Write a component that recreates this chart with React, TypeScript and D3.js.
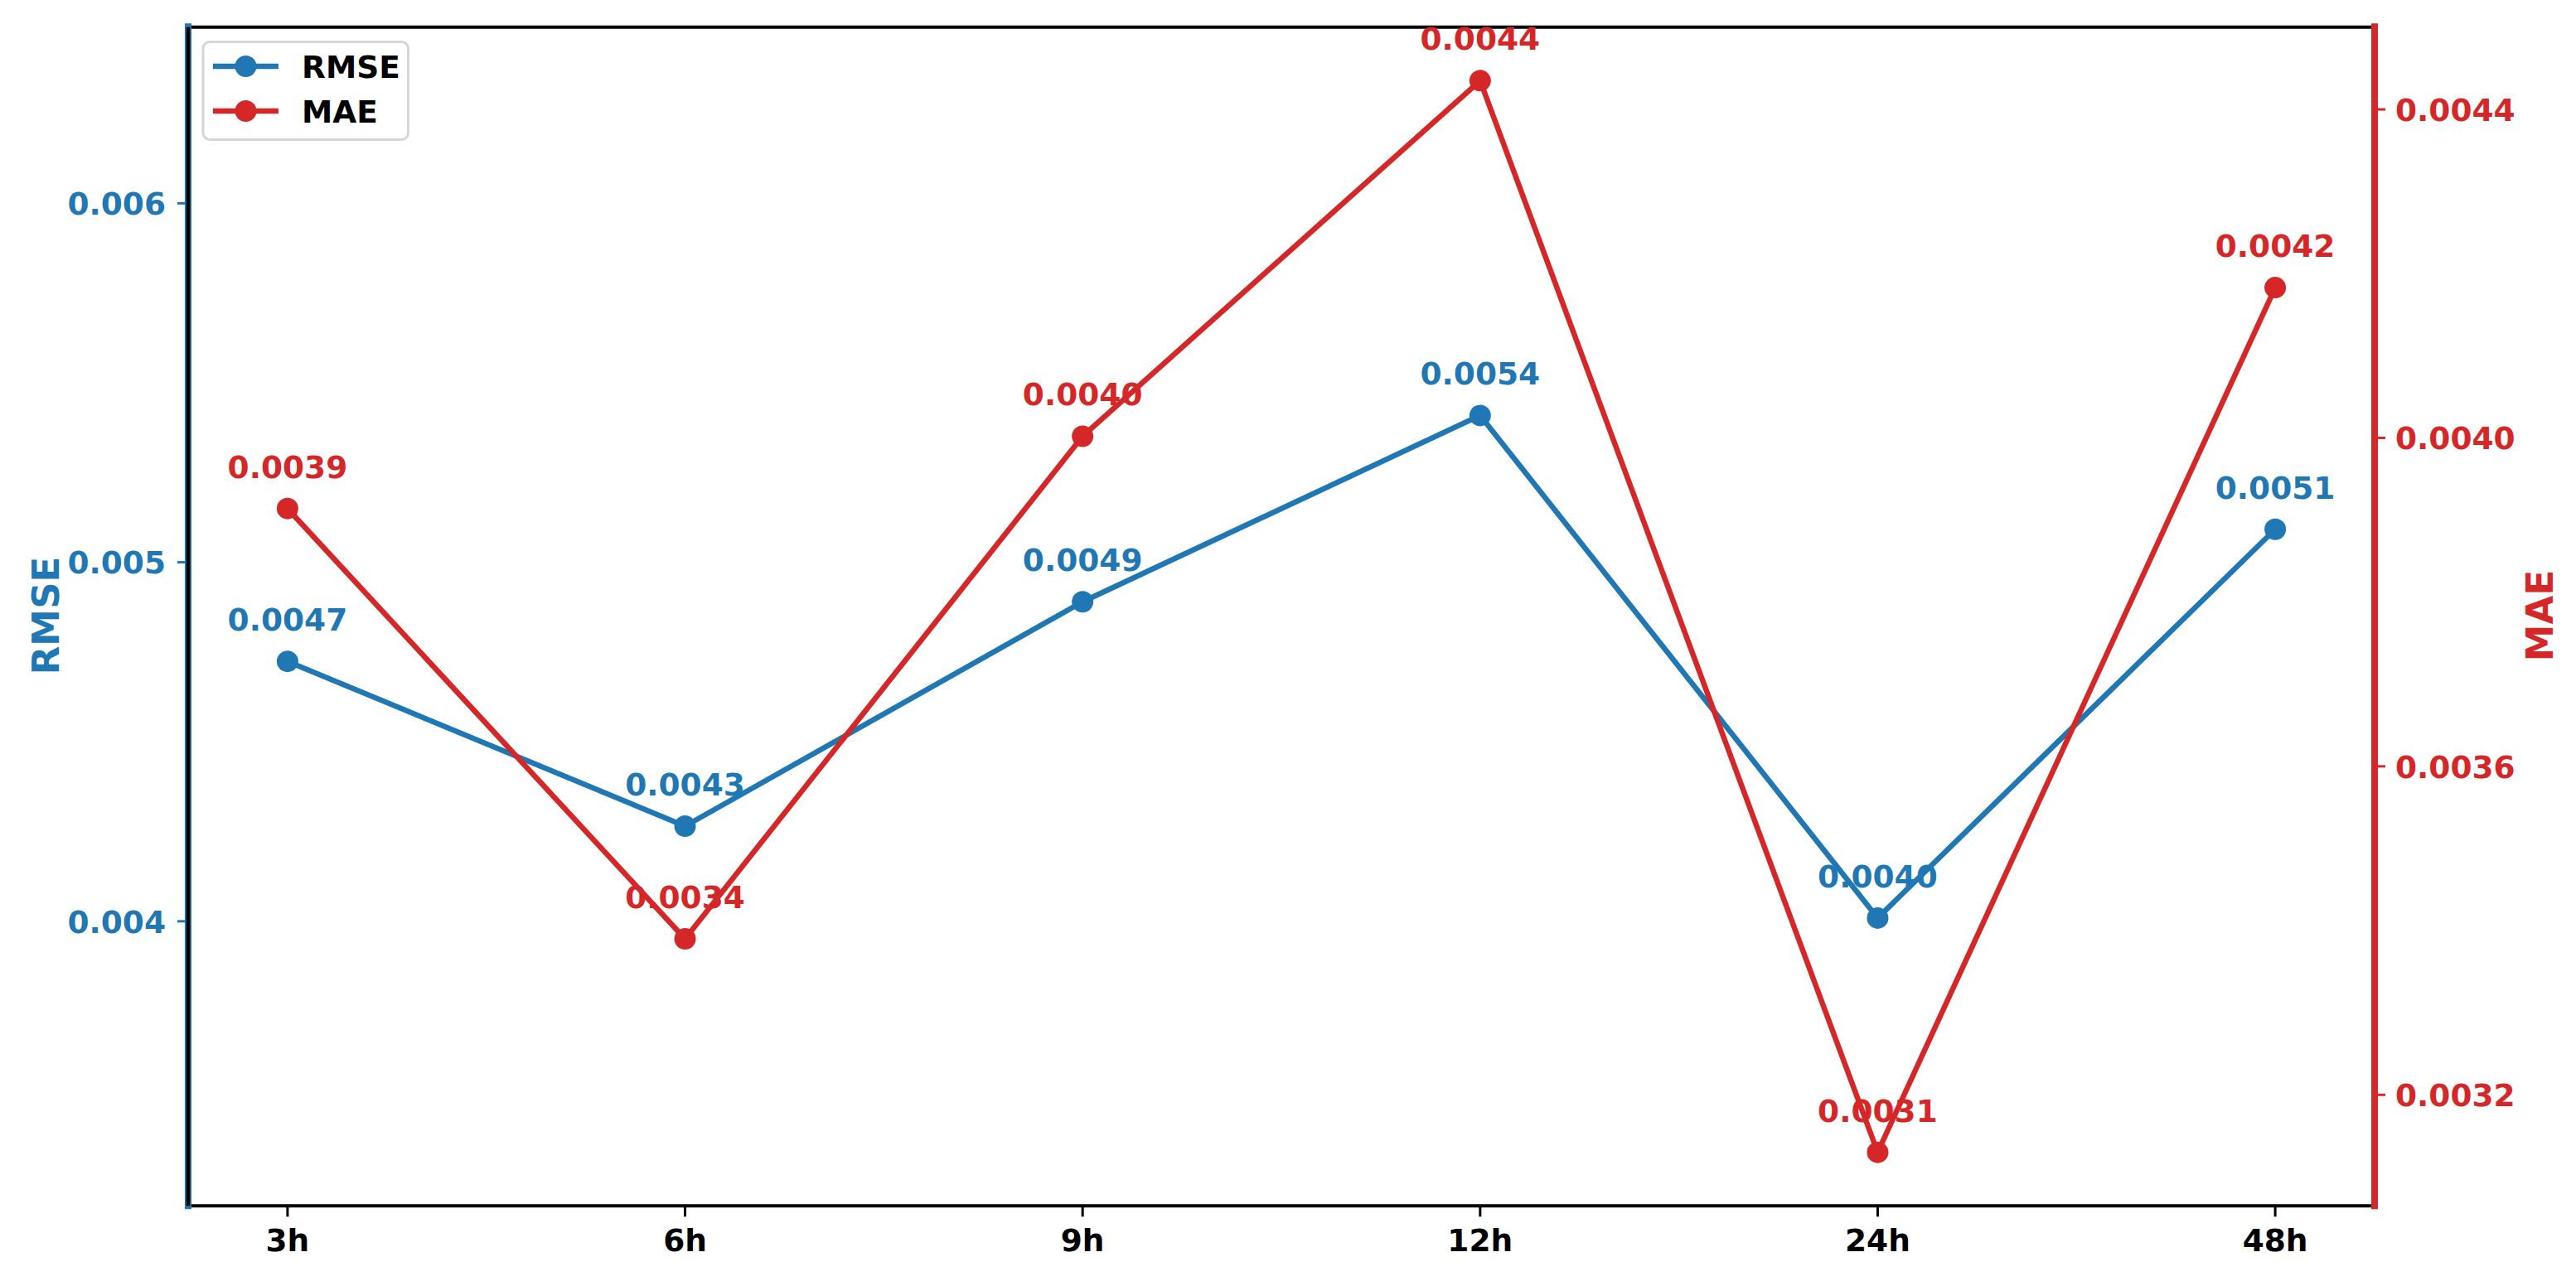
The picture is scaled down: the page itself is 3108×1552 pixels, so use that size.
import React from "react";
import * as d3 from "d3";

const horizons = ["3h", "6h", "9h", "12h", "24h", "48h"];
const rmseValues = [0.004724, 0.004265, 0.00489, 0.005409, 0.004009, 0.005092];
const maeValues = [0.003914, 0.00339, 0.004002, 0.004435, 0.00313, 0.004183];
const rmseTicks = [0.004, 0.005, 0.006];
const maeTicks = [0.0032, 0.0036, 0.004, 0.0044];

const W = 3108;
const H = 1552;
const LEFT = 227;
const RIGHT = 2865;
const TOP = 32.7;
const BOTTOM = 1455.3;
const BLUE = "#1f77b4";
const RED = "#d62728";
const FONT = "'DejaVu Sans', sans-serif";

export default function App() {
  const x = d3.scalePoint<string>().domain(horizons).range([LEFT, RIGHT]).padding(0.25);

  const rMin = d3.min(rmseValues)!;
  const rMax = d3.max(rmseValues)!;
  const yL = d3.scaleLinear().domain([rMin * 0.8, rMax * 1.2]).range([BOTTOM, TOP]);

  const mMin = d3.min(maeValues)!;
  const mMax = d3.max(maeValues)!;
  const mR = mMax - mMin;
  const yR = d3.scaleLinear().domain([mMin - 0.05 * mR, mMax + 0.05 * mR]).range([BOTTOM, TOP]);

  const lineL = d3
    .line<number>()
    .x((_, i) => x(horizons[i])!)
    .y((d) => yL(d));
  const lineR = d3
    .line<number>()
    .x((_, i) => x(horizons[i])!)
    .y((d) => yR(d));

  const fs = 37.5;

  return (
    <svg
      width={W}
      height={H}
      style={{ position: "absolute", left: 0, top: 0, display: "block", background: "#fff" }}
      fontFamily={FONT}
      fontWeight="bold"
    >
      <rect x={0} y={0} width={W} height={H} fill="#fff" />

      {/* ax1 spines */}
      <line x1={LEFT} x2={RIGHT} y1={TOP} y2={TOP} stroke="#000" strokeWidth={4} />
      <line x1={LEFT} x2={RIGHT} y1={BOTTOM} y2={BOTTOM} stroke="#000" strokeWidth={4} />
      <line x1={RIGHT} x2={RIGHT} y1={TOP} y2={BOTTOM} stroke="#000" strokeWidth={4} />
      <line x1={LEFT} x2={LEFT} y1={TOP - 4.5} y2={BOTTOM + 4} stroke={BLUE} strokeWidth={8} />

      {/* left ticks */}
      {rmseTicks.map((t) => (
        <g key={"l" + t}>
          <line x1={LEFT - 13} x2={LEFT - 3} y1={yL(t)} y2={yL(t)} stroke={BLUE} strokeWidth={3} />
          <text x={200} y={yL(t)} dy={13.8} textAnchor="end" fontSize={fs} fill={BLUE}>
            {d3.format(".3f")(t)}
          </text>
        </g>
      ))}

      {/* bottom ticks */}
      {horizons.map((h) => (
        <g key={"b" + h}>
          <line x1={x(h)!} x2={x(h)!} y1={BOTTOM} y2={BOTTOM + 13} stroke="#000" strokeWidth={3} />
          <text x={x(h)!} y={1510} textAnchor="middle" fontSize={fs} fill="#000">
            {h}
          </text>
        </g>
      ))}

      {/* RMSE line */}
      <path d={lineL(rmseValues)!} fill="none" stroke={BLUE} strokeWidth={6.5} strokeLinejoin="round" />
      {rmseValues.map((v, i) => (
        <circle key={"rc" + i} cx={x(horizons[i])!} cy={yL(v)} r={13} fill={BLUE} />
      ))}
      {rmseValues.map((v, i) => (
        <text key={"rt" + i} x={x(horizons[i])!} y={yL(v) - 37} textAnchor="middle" fontSize={fs} fill={BLUE}>
          {v.toFixed(4)}
        </text>
      ))}

      {/* ax2 left spine (black) over blue */}
      <line x1={LEFT} x2={LEFT} y1={TOP} y2={BOTTOM} stroke="#000" strokeWidth={4.5} />

      {/* MAE line */}
      <path d={lineR(maeValues)!} fill="none" stroke={RED} strokeWidth={6.5} strokeLinejoin="round" />
      {maeValues.map((v, i) => (
        <circle key={"mc" + i} cx={x(horizons[i])!} cy={yR(v)} r={13} fill={RED} />
      ))}
      {maeValues.map((v, i) => (
        <text key={"mt" + i} x={x(horizons[i])!} y={yR(v) - 37} textAnchor="middle" fontSize={fs} fill={RED}>
          {v.toFixed(4)}
        </text>
      ))}

      {/* right spine */}
      <line x1={RIGHT} x2={RIGHT} y1={TOP - 4.5} y2={BOTTOM + 4} stroke={RED} strokeWidth={8} />
      {maeTicks.map((t) => (
        <g key={"r" + t}>
          <line x1={RIGHT + 3} x2={RIGHT + 13} y1={yR(t)} y2={yR(t)} stroke={RED} strokeWidth={3} />
          <text x={2890} y={yR(t)} dy={13.8} textAnchor="start" fontSize={fs} fill={RED}>
            {d3.format(".4f")(t)}
          </text>
        </g>
      ))}

      {/* axis labels */}
      <text
        transform={`translate(${71},${743}) rotate(-90)`}
        textAnchor="middle"
        fontSize={45}
        fill={BLUE}
      >
        RMSE
      </text>
      <text
        transform={`translate(${3079.5},${743}) rotate(-90)`}
        textAnchor="middle"
        fontSize={45}
        fill={RED}
      >
        MAE
      </text>

      {/* legend */}
      <rect x={245} y={50.5} width={247.5} height={118} rx={8} ry={8} fill="#fff" stroke="#d6d6d6" strokeWidth={3} />
      {[
        { name: "RMSE", color: BLUE, y: 80 },
        { name: "MAE", color: RED, y: 134 },
      ].map((e) => (
        <g key={e.name}>
          <line x1={257} x2={336} y1={e.y} y2={e.y} stroke={e.color} strokeWidth={6.5} />
          <circle cx={296.5} cy={e.y} r={13} fill={e.color} />
          <text x={364} y={e.y + 13.5} fontSize={fs} fill="#000">
            {e.name}
          </text>
        </g>
      ))}
    </svg>
  );
}
